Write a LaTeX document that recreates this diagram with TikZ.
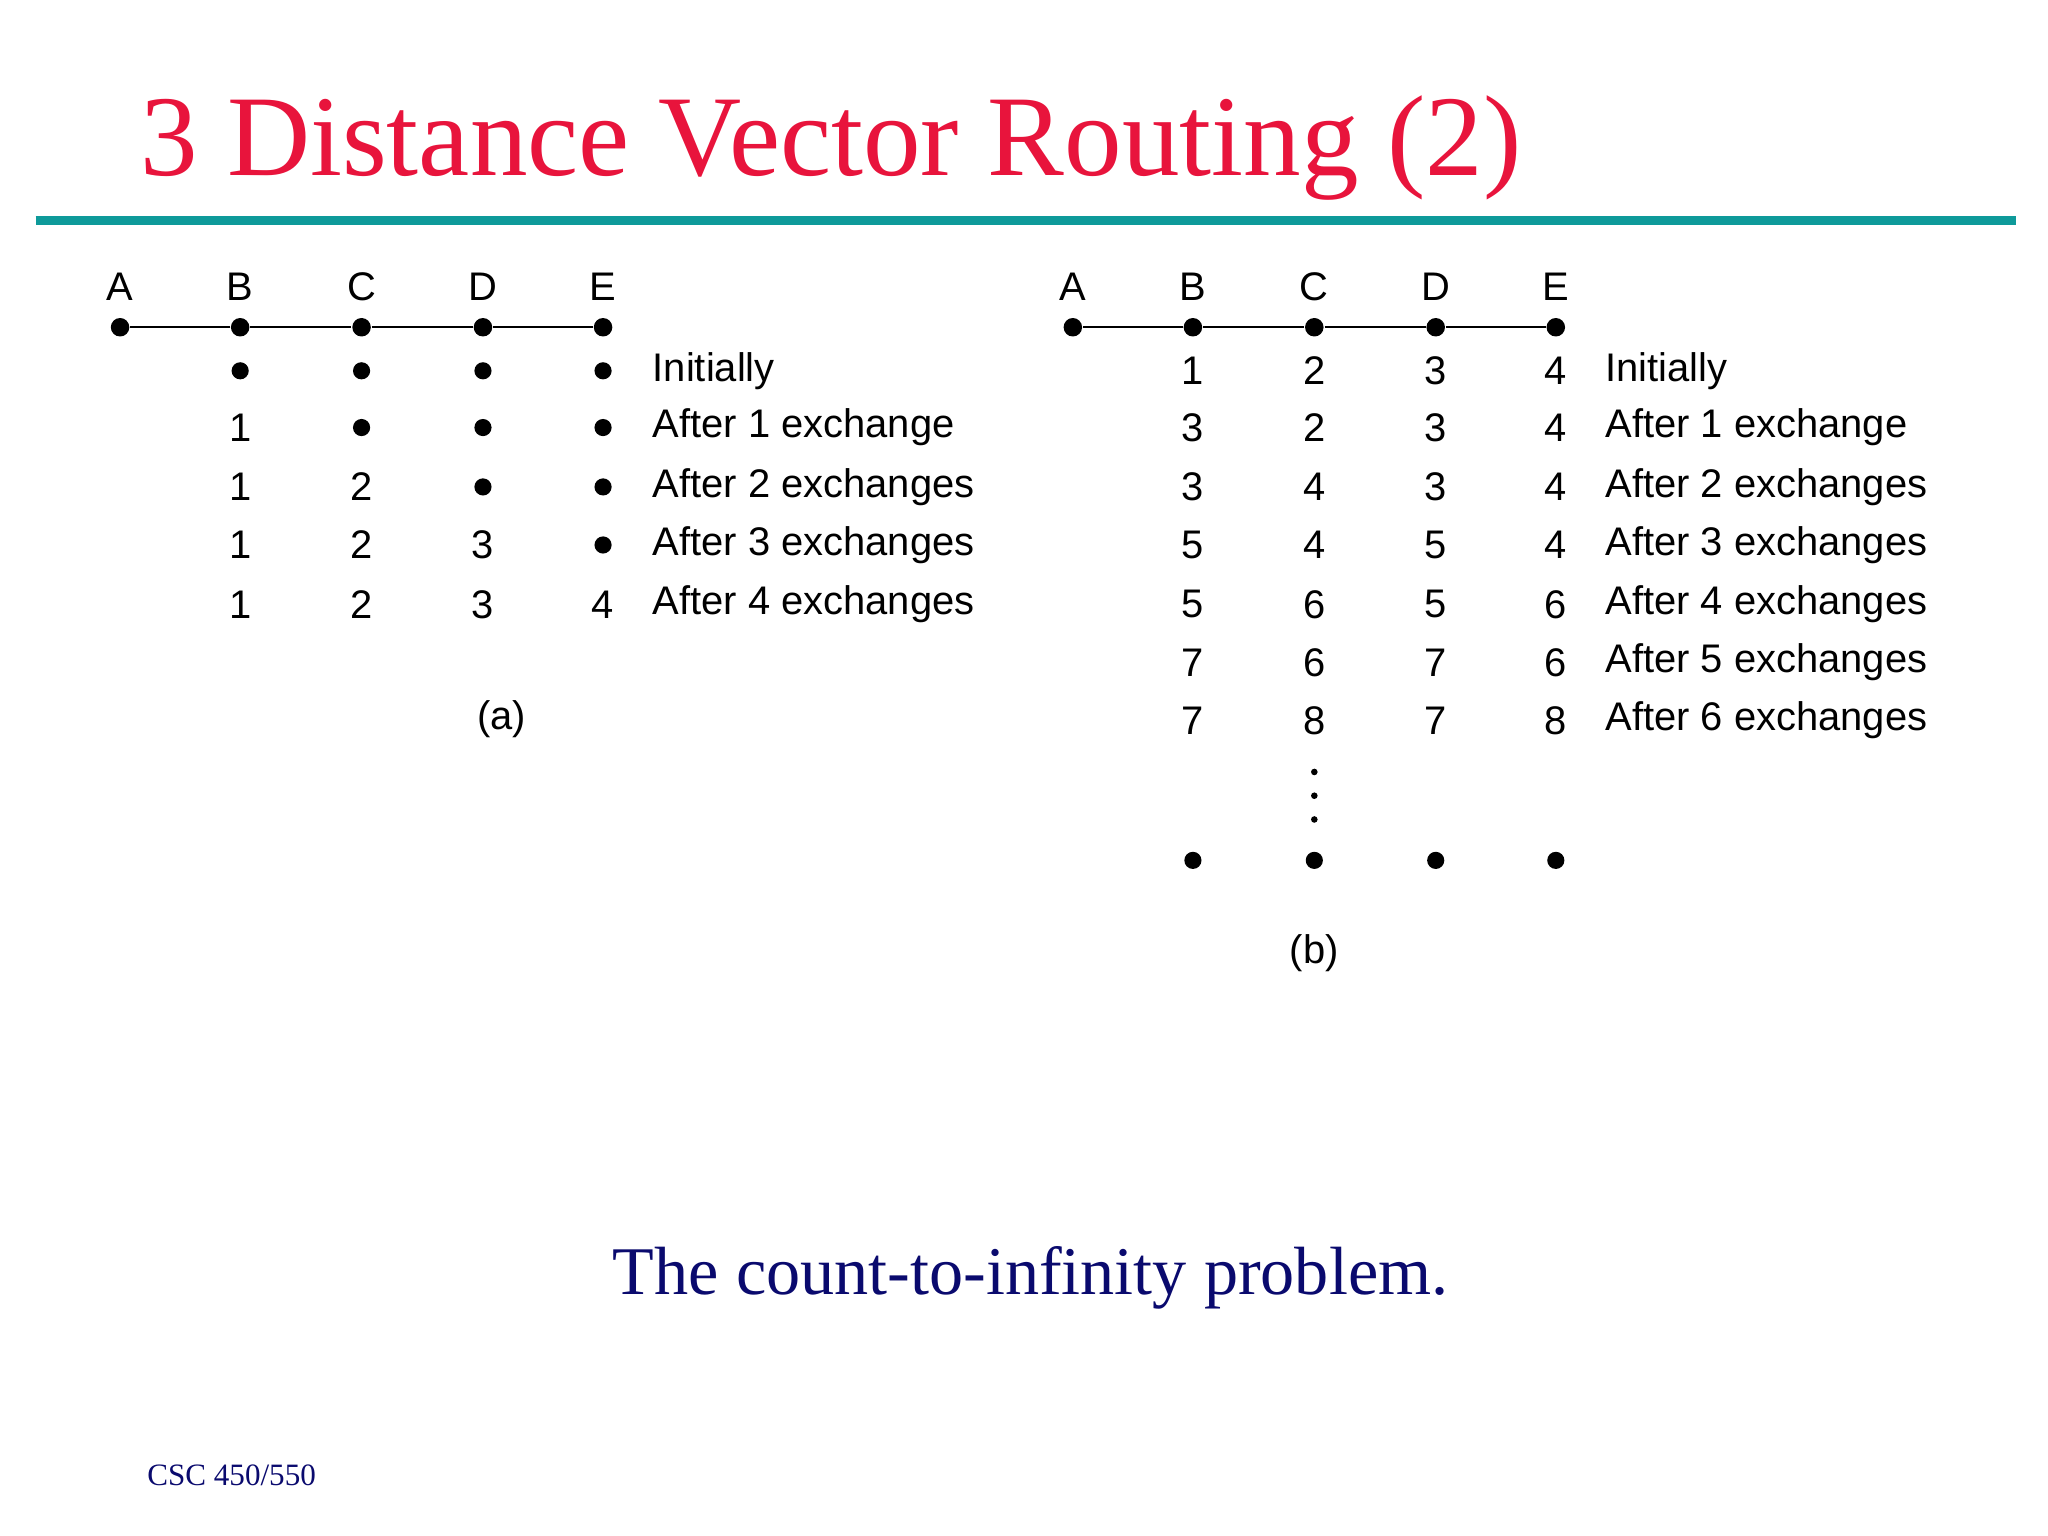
\documentclass[tikz,border=0pt]{standalone}
\usepackage{fontspec}
\setmainfont{Liberation Serif}
\setsansfont{Liberation Sans}
\begin{document}
\begin{tikzpicture}[x=0.01cm,y=-0.01cm,
  lbl/.style={font=\sffamily\fontsize{8.6}{10}\selectfont,inner sep=0pt},
  txt/.style={lbl,anchor=west},
  nd/.style={circle,fill=black,inner sep=0pt,minimum size=0.14cm},
  tb/.style={circle,fill=black,inner sep=0pt,minimum size=0.13cm}]
\useasboundingbox (0,0) rectangle (1552,1164);
\definecolor{tred}{HTML}{E8143C}
\definecolor{teal2}{HTML}{0E9A9A}
\definecolor{navy}{HTML}{0A0A6E}
\node[anchor=west,text=tred,font=\fontsize{24.8}{30}\selectfont,inner sep=0pt] (title) at (106,112) {3 Distance Vector Routing (2)};
\draw[teal2,line width=1.8pt] (27,167) -- (1528,167);
% (a)
\foreach \n/\x in {A/91,B/182,C/274,D/366,E/457}{
  \node[lbl] (a\n) at (\x,217) {\n};
  \node[nd] (pa\n) at (\x,248) {};
}
\draw (paA) -- (paB) -- (paC) -- (paD) -- (paE);
\foreach \r/\y/\lab/\vb/\vc/\vd/\ve in {1/281/Initially/x/x/x/x,2/324/After 1 exchange/1/x/x/x,3/369/After 2 exchanges/1/2/x/x,4/413/After 3 exchanges/1/2/3/x,5/458/After 4 exchanges/1/2/3/4}{
  \foreach \c/\x/\v in {B/182/\vb,C/274/\vc,D/366/\vd,E/457/\ve}{
    \if x\v \node[tb] (a\r\c) at (\x,\y) {};\else \node[lbl] (a\r\c) at (\x,\y) {\v};\fi
  }
  \node[txt] (al\r) at (494,\y) {\lab};
}
\node[lbl] (capa) at (380,545) {(a)};
% (b)
\foreach \n/\x in {A/813,B/904,C/996,D/1088,E/1179}{
  \node[lbl] (b\n) at (\x,217) {\n};
  \node[nd] (pb\n) at (\x,248) {};
}
\draw (pbA) -- (pbB) -- (pbC) -- (pbD) -- (pbE);
\foreach \r/\y/\lab/\vb/\vc/\vd/\ve in {1/281/Initially/1/2/3/4,2/324/After 1 exchange/3/2/3/4,3/369/After 2 exchanges/3/4/3/4,4/413/After 3 exchanges/5/4/5/4,5/458/After 4 exchanges/5/6/5/6,6/502/After 5 exchanges/7/6/7/6,7/546/After 6 exchanges/7/8/7/8}{
  \foreach \c/\x/\v in {B/904/\vb,C/996/\vc,D/1088/\vd,E/1179/\ve}{
    \node[lbl] (b\r\c) at (\x,\y) {\v};
  }
  \node[txt] (bl\r) at (1216,\y) {\lab};
}
\foreach \i/\y in {1/585,2/603,3/621}{\node[circle,fill=black,inner sep=0pt,minimum size=0.05cm] (vd\i) at (996,\y) {};}
\foreach \c/\x in {B/904,C/996,D/1088,E/1179}{\node[tb] (binf\c) at (\x,652) {};}
\node[lbl] (capb) at (996,722) {(b)};
\node[text=navy,font=\fontsize{14.7}{18}\selectfont,inner sep=0pt] (cap) at (781,968) {The count-to-infinity problem.};
\node[text=navy,font=\fontsize{6.7}{8}\selectfont,anchor=west,inner sep=0pt] (foot) at (111,1118) {CSC 450/550};
\end{tikzpicture}
\end{document}
